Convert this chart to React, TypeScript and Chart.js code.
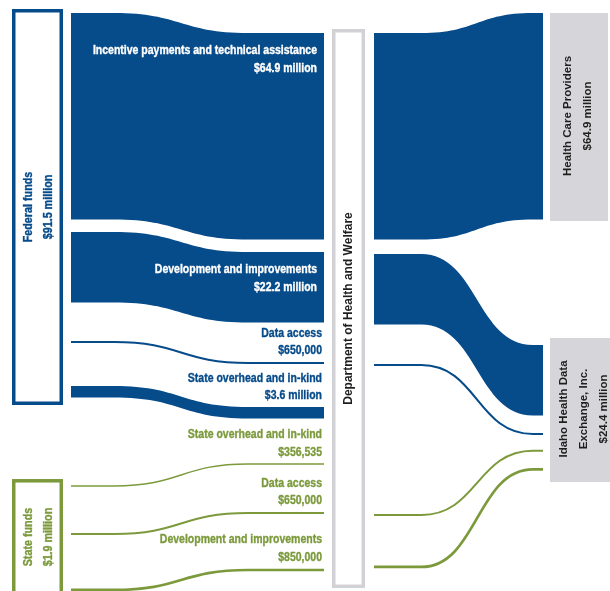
import React, { useEffect, useRef } from "react";
import { Chart, registerables } from "chart.js";

Chart.register(...registerables);

// ---------- data ----------
const sourceNames = ["Federal funds", "State funds"];
const sourceTotals = ["$91.5 million", "$1.9 million"];

const streamNames = [
  "Incentive payments and technical assistance",
  "Development and improvements",
  "Data access",
  "State overhead and in-kind",
  "State overhead and in-kind",
  "Data access",
  "Development and improvements",
];
const streamAmounts = [
  "$64.9 million",
  "$22.2 million",
  "$650,000",
  "$3.6 million",
  "$356,535",
  "$650,000",
  "$850,000",
];
const streamValues = [64.9, 22.2, 0.65, 3.6, 0.356535, 0.65, 0.85]; // $ millions
const streamSource = [0, 0, 0, 0, 1, 1, 1];
const streamRecipient = [0, 1, 1, -1, -1, 1, 1]; // -1 = stays in department

const hubName = "Department of Health and Welfare";

const recipientLines = [
  ["Health Care Providers", "$64.9 million"],
  ["Idaho Health Data", "Exchange, Inc.", "$24.4 million"],
];

// ---------- layout (axis units; y axis in $ millions) ----------
const X_MAX = 610;
const Y_MAX = 185.85;
const COL_SRC = [12, 63];
const COL_IN = [71, 324];
const COL_HUB = [332, 365];
const COL_OUT = [374, 543];
const COL_RCP = [[550, 608], [550, 616]];
const GAP_SRC = [4.09, 3.97, 12.08, 13.5, 27.66, 14.61, 16.83];
const GAP_HUB_IN = [10.38, 3.97, 12.39, 13.5, 14.14, 14.93, 17.15];
const GAP_HUB_OUT = [10.38, 4.6, 12.39, 46.52, 15.58];
const GAP_RCP = [[4.09], [108.49, 5.47, 4.6, 5.1]];
const PAD_SRC = [[1.26, 2.37], [2.01, 1.2]];
const PAD_HUB = [1.26, 5.25];
const PAD_RCP = [[0, 0.5], [2.2, 3.55]];

const NAVY = "#064b8a";
const GREEN = "#7c9a3c";
const SRC_COLORS = [NAVY, GREEN];
const GRAY_FILL = "#d6d6da";
const GRAY_LINE = "#d2d2d6";
const DARK = "#1e1e1e";

const FONT = "'Liberation Sans', Arial, sans-serif";

function drawText(
  ctx: CanvasRenderingContext2D,
  str: string,
  x: number,
  y: number,
  color: string,
  size: number,
  align: CanvasTextAlign,
  sx: number,
  rot: boolean,
  heavy: number
) {
  ctx.save();
  ctx.translate(x, y);
  if (rot) ctx.rotate(-Math.PI / 2);
  ctx.scale(sx, 1);
  ctx.font = `bold ${size}px ${FONT}`;
  ctx.fillStyle = color;
  ctx.textAlign = align;
  ctx.textBaseline = "middle";
  ctx.fillText(str, 0, 0);
  if (heavy > 0) {
    ctx.strokeStyle = color;
    ctx.lineWidth = heavy;
    ctx.lineJoin = "round";
    ctx.strokeText(str, 0, 0);
  }
  ctx.restore();
}

function curveTo(
  ctx: CanvasRenderingContext2D,
  x0: number,
  y0: number,
  x1: number,
  y1: number,
  f0: number,
  f1: number
) {
  const dx = x1 - x0;
  const xa = x0 + f0 * dx;
  const xb = x1 - f1 * dx;
  const xm = (xa + xb) / 2;
  ctx.lineTo(xa, y0);
  ctx.bezierCurveTo(xm, y0, xm, y1, xb, y1);
  ctx.lineTo(x1, y1);
}

function drawFlow(
  ctx: CanvasRenderingContext2D,
  x0: number,
  t0: number,
  x1: number,
  t1: number,
  h: number,
  color: string,
  f0: number,
  f1: number
) {
  if (h < 5) {
    const c = h / 2;
    ctx.beginPath();
    ctx.moveTo(x0, t0 + c);
    curveTo(ctx, x0, t0 + c, x1, t1 + c, f0, f1);
    ctx.strokeStyle = color;
    ctx.lineWidth = Math.max(h, 1.4);
    ctx.stroke();
    return;
  }
  ctx.beginPath();
  ctx.moveTo(x0, t0);
  curveTo(ctx, x0, t0, x1, t1, f0, f1);
  ctx.lineTo(x1, t1 + h);
  curveTo(ctx, x1, t1 + h, x0, t0 + h, f1, f0);
  ctx.closePath();
  ctx.fillStyle = color;
  ctx.fill();
}

const sankeyPlugin = {
  id: "sankeyPlugin",
  afterDraw(chart: any) {
    const ctx: CanvasRenderingContext2D = chart.ctx;
    const xs = chart.scales.x;
    const ys = chart.scales.y;
    const px = (v: number) => xs.getPixelForValue(v);
    const py = (v: number) => ys.getPixelForValue(v);

    // stacking positions in y-axis units
    const srcTop: number[] = [];
    const hubInTop: number[] = [];
    const hubOutTop: number[] = [];
    const rcpTop: number[] = [];
    let a = 0;
    let b = 0;
    let c = 0;
    let j = 0;
    const rcpCursor = [0, 0];
    const rcpCount = [0, 0];
    streamValues.forEach((v, i) => {
      a += GAP_SRC[i];
      srcTop[i] = a;
      a += v;
      b += GAP_HUB_IN[i];
      hubInTop[i] = b;
      b += v;
      const r = streamRecipient[i];
      if (r >= 0) {
        c += GAP_HUB_OUT[j++];
        hubOutTop[i] = c;
        c += v;
        rcpCursor[r] += GAP_RCP[r][rcpCount[r]++];
        rcpTop[i] = rcpCursor[r];
        rcpCursor[r] += v;
      }
    });

    ctx.save();

    // source boxes
    sourceNames.forEach((name, s) => {
      const idx = streamValues.map((_, i) => i).filter((i) => streamSource[i] === s);
      const top = Math.min(...idx.map((i) => srcTop[i])) - PAD_SRC[s][0];
      const bot = Math.max(...idx.map((i) => srcTop[i] + streamValues[i])) + PAD_SRC[s][1];
      const x0 = px(COL_SRC[0]);
      const x1 = px(COL_SRC[1]);
      const y0 = py(top);
      const y1 = py(bot);
      ctx.fillStyle = "#ffffff";
      ctx.fillRect(x0, y0, x1 - x0, y1 - y0);
      ctx.strokeStyle = SRC_COLORS[s];
      ctx.lineWidth = 3.5;
      ctx.strokeRect(x0 + 1.75, y0 + 1.75, x1 - x0 - 3.5, y1 - y0 - 3.5);
      const cx = (x0 + x1) / 2 + 1.5;
      const cy = (y0 + y1) / 2;
      const lines = [name, sourceTotals[s]];
      lines.forEach((t, k) => {
        drawText(ctx, t, cx + (k - 0.5) * 20, cy, SRC_COLORS[s], 12.5, "center", 0.86, true, 0.35);
      });
    });

    // hub box
    {
      const top = Math.min(...hubInTop) - PAD_HUB[0];
      const bot = Math.max(...hubInTop.map((t, i) => t + streamValues[i])) + PAD_HUB[1];
      const x0 = px(COL_HUB[0]);
      const x1 = px(COL_HUB[1]);
      const y0 = py(top);
      const y1 = py(bot);
      ctx.fillStyle = "#ffffff";
      ctx.fillRect(x0, y0, x1 - x0, y1 - y0);
      ctx.strokeStyle = GRAY_LINE;
      ctx.lineWidth = 3.5;
      ctx.strokeRect(x0 + 1.75, y0 + 1.75, x1 - x0 - 3.5, y1 - y0 - 3.5);
      drawText(ctx, hubName, (x0 + x1) / 2 + 0.5, (y0 + y1) / 2, DARK, 12, "center", 1, true, 0);
    }

    // recipient boxes
    recipientLines.forEach((lines, r) => {
      const idx = streamValues.map((_, i) => i).filter((i) => streamRecipient[i] === r);
      const top = Math.min(...idx.map((i) => rcpTop[i])) - PAD_RCP[r][0];
      const bot = Math.max(...idx.map((i) => rcpTop[i] + streamValues[i])) + PAD_RCP[r][1];
      const x0 = px(COL_RCP[r][0]);
      const x1 = px(COL_RCP[r][1]);
      const y0 = py(top);
      const y1 = py(bot);
      ctx.fillStyle = GRAY_FILL;
      ctx.fillRect(x0, y0, x1 - x0, y1 - y0);
      const n = lines.length;
      const gap = 20;
      const cx = n === 3 ? 584 : (x0 + x1) / 2 - 1.5;
      const cy = (y0 + y1) / 2 - 1;
      lines.forEach((t, k) => {
        drawText(ctx, t, cx + (k - (n - 1) / 2) * gap, cy, DARK, 11.5, "center", 1, true, 0);
      });
    });

    // flows: sources -> hub
    streamValues.forEach((v, i) => {
      const color = SRC_COLORS[streamSource[i]];
      const t0 = py(srcTop[i]);
      const t1 = py(hubInTop[i]);
      const h = py(srcTop[i] + v) - t0;
      drawFlow(ctx, px(COL_IN[0]), t0, px(COL_IN[1]), t1, h, color, 0.17, 0.3);
    });

    // flows: hub -> recipients
    streamValues.forEach((v, i) => {
      if (streamRecipient[i] < 0) return;
      const color = SRC_COLORS[streamSource[i]];
      const t0 = py(hubOutTop[i]);
      const t1 = py(rcpTop[i]);
      const h = py(hubOutTop[i] + v) - t0;
      drawFlow(ctx, px(COL_OUT[0]), t0, px(COL_OUT[1]), t1, h, color, 0.28, 0.06);
    });

    // stream labels
    streamValues.forEach((v, i) => {
      const color = SRC_COLORS[streamSource[i]];
      const t1 = py(hubInTop[i]);
      const h = py(hubInTop[i] + v) - t1;
      const inside = h > 40;
      const l1 = inside ? t1 + 18 : t1 - 11 - 17.7;
      const xr = inside ? px(COL_IN[1]) - 7 : px(COL_IN[1]) - 2;
      const col = inside ? "#ffffff" : color;
      drawText(ctx, streamNames[i], xr, l1, col, 12.5, "right", 0.84, false, 0.35);
      drawText(ctx, streamAmounts[i], xr, l1 + 17.7, col, 12.5, "right", 0.84, false, 0.35);
    });

    ctx.restore();
  },
};

export default function App() {
  const ref = useRef<HTMLCanvasElement | null>(null);
  useEffect(() => {
    document.body.style.margin = "0";
    const canvas = ref.current;
    if (!canvas) return;
    const chart = new Chart(canvas, {
      type: "scatter",
      data: { datasets: [{ data: [], pointRadius: 0 }] },
      options: {
        animation: false,
        responsive: false,
        maintainAspectRatio: false,
        events: [],
        layout: { padding: 0 },
        plugins: { legend: { display: false }, tooltip: { enabled: false } },
        scales: {
          x: { type: "linear", min: 0, max: X_MAX, display: false },
          y: { type: "linear", min: 0, max: Y_MAX, reverse: true, display: false },
        },
      },
      plugins: [sankeyPlugin],
    });
    return () => chart.destroy();
  }, []);
  return (
    <div style={{ position: "absolute", left: 0, top: 0, width: 610, height: 591, background: "#fff" }}>
      <canvas ref={ref} width={610} height={591} style={{ display: "block" }} />
    </div>
  );
}
